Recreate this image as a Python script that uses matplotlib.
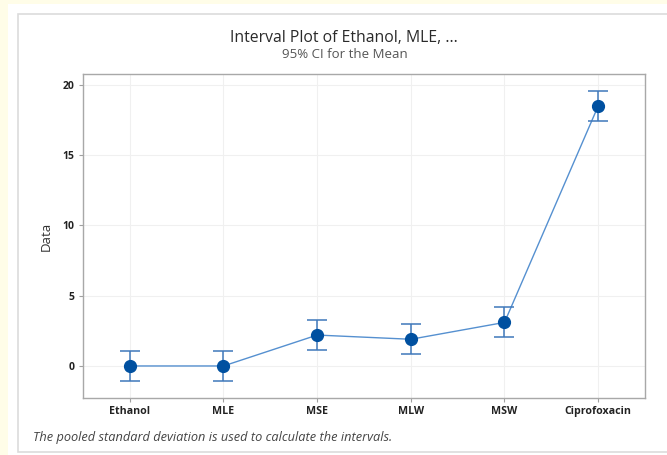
import numpy as np
import matplotlib.pyplot as plt
from matplotlib.patches import Rectangle

groups = ["Ethanol", "MLE", "MSE", "MLW", "MSW", "Ciprofoxacin"]
means = [0.0, 0.0, 2.2, 1.9, 3.1, 18.5]
ci_half = [1.07, 1.07, 1.07, 1.07, 1.07, 1.07]
yticks = [0, 5, 10, 15, 20]

plt.rcParams['font.family'] = ['Open Sans', 'DejaVu Sans']

W, H = 667, 455
fig = plt.figure(figsize=(W / 100, H / 100), dpi=100)
fig.patch.set_facecolor('#fffde8')

# white panel with a thin grey frame
fig.patches.append(Rectangle((8 / W, 0), 1, 1 - 4 / H, transform=fig.transFigure,
                             facecolor='white', edgecolor='none', zorder=-2))
fig.patches.append(Rectangle((18 / W, 1 - 452 / H), 1, (452 - 14) / H,
                             transform=fig.transFigure, facecolor='white',
                             edgecolor='#dcdcdc', linewidth=1.2, zorder=-1))

ax = fig.add_axes([83 / W, 1 - 398 / H, (645 - 83) / W, (398 - 74) / H])
ax.set_zorder(2)
x = np.arange(len(groups))

ax.plot(x, means, color='#5590d0', linewidth=1.0, zorder=2)
ax.errorbar(x, means, yerr=ci_half, fmt='none', ecolor='#3f78bb',
            elinewidth=1.1, capsize=7, capthick=1.1, zorder=3)
ax.plot(x, means, 'o', color='#0050a0', markersize=8.5, zorder=4)

ax.set_xlim(-0.5, len(groups) - 0.5)
ax.set_ylim(-2.28, 20.78)
ax.set_xticks(x)
ax.set_xticklabels(groups, fontsize=7.7, fontweight='bold', color='#222222')
ax.set_yticks(yticks)
ax.set_yticklabels([str(t) for t in yticks], fontsize=7.5, fontweight='bold',
                   color='#222222')
ax.tick_params(axis='both', length=3, color='#a0a0a0', width=0.8, pad=3)
ax.grid(True, color='#f0f0f0', linewidth=0.8)
ax.set_axisbelow(True)
for s in ax.spines.values():
    s.set_color('#a8a8a8')
    s.set_linewidth(1.0)

ax.set_ylabel("Data", fontsize=9.5, color='#333333', labelpad=7)

fig.text(344 / W, 1 - 38 / H, "Interval Plot of Ethanol, MLE, ...", ha='center',
         va='center', fontsize=11.3, color='#2a2a2a')
fig.text(345 / W, 1 - 55 / H, "95% CI for the Mean", ha='center', va='center',
         fontsize=9.5, color='#555555')
fig.text(33 / W, 1 - 438 / H,
         "The pooled standard deviation is used to calculate the intervals.",
         ha='left', va='center', fontsize=9.15, style='italic', color='#444444')

fig.savefig("out.png", dpi=100)
